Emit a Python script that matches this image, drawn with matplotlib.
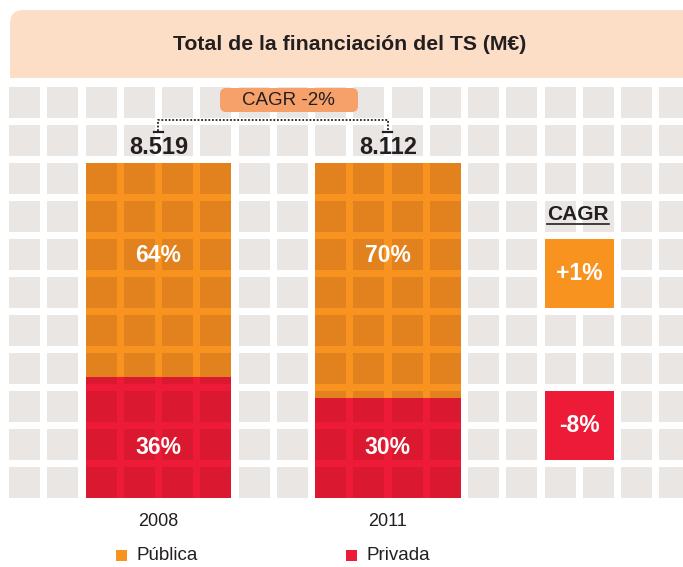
import matplotlib
matplotlib.use("Agg")
import matplotlib.pyplot as plt
from matplotlib.patches import Rectangle, FancyBboxPatch
from matplotlib import transforms

title = "Total de la financiación del TS (M€)"
years = ["2008", "2011"]
totals = ["8.519", "8.112"]
publica = [64, 70]
privada = [36, 30]
series = ["Pública", "Privada"]
cagr_total = "CAGR -2%"
cagr_series = ["+1%", "-8%"]

orange = "#F7931E"
orange_dark = "#E1821E"
red = "#ED1B37"
red_dark = "#DA1830"
grey = "#EAE6E3"
peach = "#FCDDC6"
salmon = "#F6A06A"
ink = "#231F20"

plt.rcParams["font.family"] = ["Liberation Sans", "DejaVu Sans"]

W, H = 683, 567
fig = plt.figure(figsize=(W / 100, H / 100), dpi=100)

# fondo en pixeles
bg = fig.add_axes([0, 0, 1, 1])
bg.set_xlim(0, W)
bg.set_ylim(H, 0)
bg.axis("off")

x0, dx, y0, dy, sq = 9, 38.25, 87, 38, 31
ncols, nrows = 18, 11

for i in range(ncols):
    for j in range(nrows):
        bg.add_patch(Rectangle((x0 + i * dx, y0 + j * dy), sq, sq, color=grey, lw=0))

band = FancyBboxPatch((10, 10), 720, 120, boxstyle="round,pad=0,rounding_size=14",
                      fc=peach, ec="none")
bg.add_patch(band)
band.set_clip_path(Rectangle((0, 0), W, 78, transform=bg.transData))
bg.text(350, 44, title, ha="center", va="center", fontsize=15.3, fontweight="bold", color=ink)

pill = FancyBboxPatch((220, 88), 138, 24, boxstyle="round,pad=0,rounding_size=6",
                      fc=salmon, ec="none")
bg.add_patch(pill)
bg.text(288, 100.5, cagr_total, ha="center", va="center", fontsize=13.5, color=ink)

# barras
ax = fig.add_axes([0, 0, 1, 1])
ax.axis("off")
ax.set_xlim((0 - 158.4) / 229.5, (W - 158.4) / 229.5)
ax.set_ylim((498 - H) / 3.35, 498 / 3.35)
xs = list(range(len(years)))
bw = 145.75 / 229.5
b1 = ax.bar(xs, publica, bw, bottom=privada, color=orange, lw=0)
b2 = ax.bar(xs, privada, bw, color=red, lw=0)

for bars, dark in [(b1, orange_dark), (b2, red_dark)]:
    for bar in bars:
        for i in range(ncols):
            for j in range(nrows):
                r = Rectangle((x0 + i * dx, y0 + j * dy), sq, sq, color=dark, lw=0,
                              transform=bg.transData)
                ax.add_patch(r)
                r.set_clip_path(bar)

tr = transforms.blended_transform_factory(ax.transData, bg.transData)

ax.plot([0, 0, 1, 1], [131, 120, 120, 131], transform=tr, ls=(0, (1, 1)), lw=1.3, color=ink)
for i in xs:
    ax.plot([i - 0.02, i + 0.02], [132, 132], transform=tr, lw=1.6, color=ink)
    ax.text(i, 147, totals[i], transform=tr, ha="center", va="center",
            fontsize=17, fontweight="bold", color=ink)
    ax.text(i, 256, str(publica[i]) + "%", transform=tr, ha="center", va="center",
            fontsize=16.5, fontweight="bold", color="white")
    ax.text(i, 448, str(privada[i]) + "%", transform=tr, ha="center", va="center",
            fontsize=16.5, fontweight="bold", color="white")
    ax.text(i, 522, years[i], transform=tr, ha="center", va="center", fontsize=13, color=ink)

# CAGR por serie
bg.text(578, 214, "CAGR", ha="center", va="center", fontsize=15, fontweight="bold", color=ink)
bg.plot([547, 609], [224, 224], color=ink, lw=1.2)
for k, (row, col) in enumerate([(4, orange), (8, red)]):
    bx = x0 + 14 * dx
    by = y0 + row * dy
    bg.add_patch(Rectangle((bx, by), dx + sq, dy + sq, color=col, lw=0))
    bg.text(bx + (dx + sq) / 2, by + (dy + sq) / 2, cagr_series[k], ha="center", va="center",
            fontsize=16.5, fontweight="bold", color="white")

# leyenda
for k, (lx, col) in enumerate([(116, orange), (346, red)]):
    bg.add_patch(Rectangle((lx, 549.5), 11, 11, color=col, lw=0))
    bg.text(lx + 21, 555, series[k], ha="left", va="center", fontsize=13.5, color=ink)

fig.savefig("out.png", dpi=100)
